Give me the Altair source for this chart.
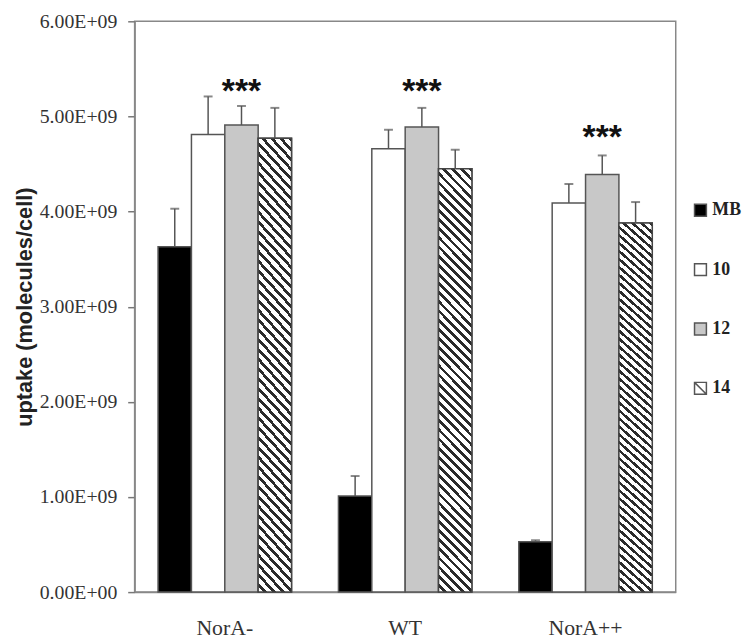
import altair as alt
import pandas as pd

# ---------------- data ----------------
strains = ["NorA-", "WT", "NorA++"]
series = ["MB", "10", "12", "14"]

uptake_MB = [3.63e9, 1.01e9, 0.53e9]
uptake_10 = [4.81e9, 4.66e9, 4.09e9]
uptake_12 = [4.91e9, 4.89e9, 4.39e9]
uptake_14 = [4.77e9, 4.45e9, 3.88e9]

sd_MB = [0.40e9, 0.21e9, 0.015e9]
sd_10 = [0.40e9, 0.20e9, 0.20e9]
sd_12 = [0.20e9, 0.20e9, 0.20e9]
sd_14 = [0.32e9, 0.20e9, 0.22e9]

star_text = "***"
star_series = "12"
star_level = [5.31e9, 5.31e9, 4.82e9]

y_ticks = [0, 1e9, 2e9, 3e9, 4e9, 5e9, 6e9]

# ---------------- tables ----------------
means = {"MB": uptake_MB, "10": uptake_10, "12": uptake_12, "14": uptake_14}
sds = {"MB": sd_MB, "10": sd_10, "12": sd_12, "14": sd_14}
rows = []
for s in series:
    for i, st in enumerate(strains):
        rows.append({"strain": st, "series": s, "uptake": means[s][i],
                     "top": means[s][i] + sds[s][i], "half": means[s][i] / 2})
df = pd.DataFrame(rows)
stars = pd.DataFrame({"strain": strains, "series": [star_series] * 3,
                      "level": star_level, "label": [star_text] * 3})

# hatch pattern via a striped linear gradient
n_stripes = 50
stops = []
for i in range(n_stripes):
    a = i / n_stripes
    b = (i + 0.58) / n_stripes
    c = (i + 1) / n_stripes
    stops += [{"offset": a, "color": "#ffffff"}, {"offset": b, "color": "#ffffff"},
              {"offset": b, "color": "#2b2b2b"}, {"offset": c, "color": "#2b2b2b"}]
hatch = {"gradient": "linear", "x1": 0, "y1": 1, "x2": 0.0859, "y2": -0.0731,
         "stops": stops}

serif = "Liberation Serif"
sans = "Liberation Sans"

x_enc = alt.X("strain:N", sort=strains,
              scale=alt.Scale(domain=strains, paddingInner=0.26, paddingOuter=0.13),
              axis=alt.Axis(title=None, labelAngle=0, ticks=False, labelFont=serif,
                            labelFontSize=22, labelColor="#333", labelPadding=26,
                            domainColor="#888", domainWidth=1.5))
xo_enc = alt.XOffset("series:N", sort=series,
                     scale=alt.Scale(domain=series, paddingInner=0, paddingOuter=0))

y_axis = alt.Axis(values=y_ticks,
                  labelExpr="datum.value == 0 ? '0.00E+00' : format(datum.value / 1e9, '.2f') + 'E+09'",
                  title="uptake (molecules/cell)", titleFont=sans,
                  titleFontSize=22, titleFontWeight="bold", titleColor="#222",
                  titlePadding=3, labelFont=serif, labelFontSize=20,
                  labelColor="#333", labelPadding=11, tickSize=7,
                  tickColor="#777", tickWidth=1.5, grid=False,
                  domainColor="#888", domainWidth=1.5)
y_scale = alt.Scale(domain=[0, 6e9], nice=False)


def y_of(field):
    return alt.Y(f"{field}:Q", scale=y_scale, axis=y_axis)


color_scale = alt.Scale(domain=series, range=["#000000", "#ffffff", "#c8c8c8", "#ffffff"])
stroke_scale = alt.Scale(domain=series, range=["#555555", "#555555", "#555555", "#555555"])
shape_scale = alt.Scale(domain=series,
                        range=["square", "square", "square", "M-1,-1H1V1H-1Z M-1,-1L1,1"])
legend = alt.Legend(title=None, orient="none", legendX=563, legendY=182,
                    symbolSize=144, symbolStrokeWidth=1.5,
                    labelFont=serif, labelFontSize=18, labelFontWeight="bold",
                    labelColor="#222", rowPadding=42, labelOffset=3, symbolOpacity=1)

base = alt.Chart(df)

# legend carrier points, hidden behind the bars
pts = base.mark_point(filled=True, strokeWidth=1.5, size=100).encode(
    x=x_enc, xOffset=xo_enc,
    y=y_of("half"),
    color=alt.Color("series:N", scale=color_scale, legend=legend, sort=series),
    shape=alt.Shape("series:N", scale=shape_scale, legend=legend, sort=series),
    stroke=alt.Stroke("series:N", scale=stroke_scale, legend=legend, sort=series),
)

bars = base.mark_bar(stroke="#555", strokeWidth=1.5).encode(
    x=x_enc, xOffset=xo_enc, y=y_of("uptake"),
    color=alt.Color("series:N", scale=color_scale, legend=legend, sort=series),
)

hatched = base.transform_filter("datum.series == '14'").mark_bar(
    fill=hatch, stroke="#444", strokeWidth=1.5).encode(
    x=x_enc, xOffset=xo_enc, y=y_of("uptake"))

err = base.mark_rule(color="#555", strokeWidth=1.5).encode(
    x=x_enc, xOffset=xo_enc, y=y_of("uptake"), y2="top:Q")

caps = base.mark_tick(color="#555", size=9, thickness=2, orient="horizontal").encode(
    x=x_enc, xOffset=xo_enc, y=y_of("top"))

star_marks = alt.Chart(stars).mark_text(
    font=sans, fontSize=34, fontWeight="bold", color="#111",
    baseline="alphabetic", dy=15).encode(
    x=x_enc, xOffset=xo_enc, y=y_of("level"), text="label:N")

chart = alt.layer(pts, bars, hatched, err, caps, star_marks).properties(
    width=547, height=577, autosize="none",
    padding={"left": 128, "top": 10, "right": 68, "bottom": 48},
    background="white",
).configure_view(stroke="#888", strokeWidth=1.5).configure_axisY(
    labelFont=serif, labelFontSize=20, labelColor="#333",
    titleFont=sans, titleFontSize=22, titleFontWeight="bold")

chart.save("out.html", embed_options={"renderer": "svg", "actions": False})
